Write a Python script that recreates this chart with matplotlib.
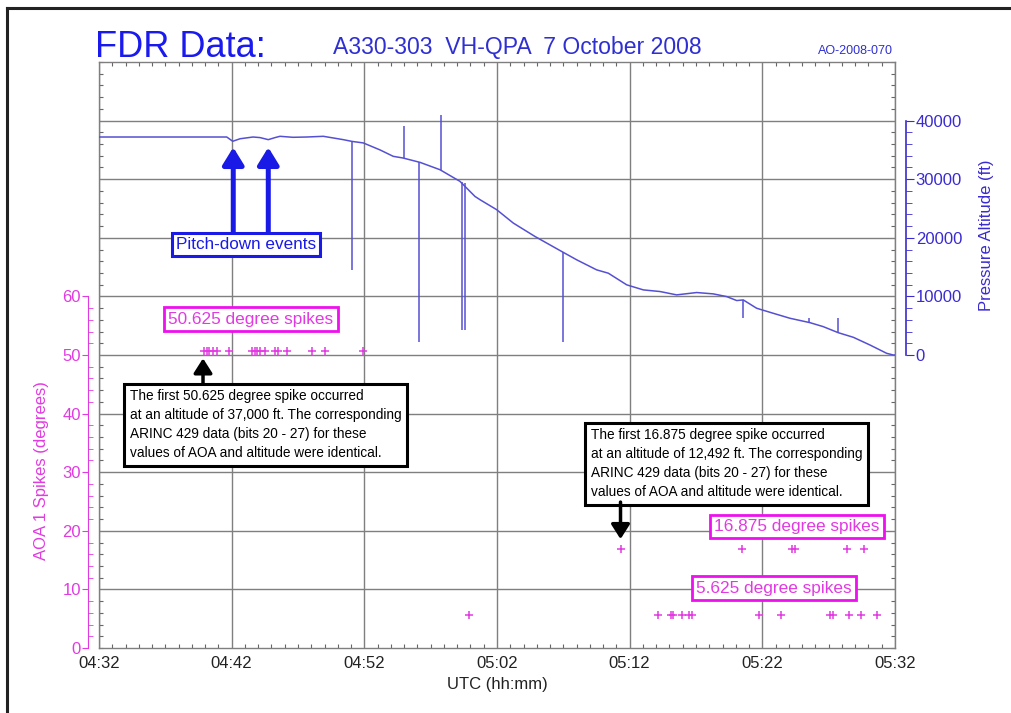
import matplotlib
matplotlib.use('Agg')
import matplotlib.pyplot as plt
from matplotlib.ticker import FixedLocator
from matplotlib.lines import Line2D

plt.rcParams['font.family'] = ['Liberation Sans', 'DejaVu Sans']

# time axis: minutes after 04:32 UTC
time_ticks = [0, 10, 20, 30, 40, 50, 60]
time_labels = ['04:32', '04:42', '04:52', '05:02', '05:12', '05:22', '05:32']

# pressure altitude trace (ft)
alt_min = [0, 9.63, 10.08, 10.63, 11.61, 12.14, 12.76, 13.27, 13.64, 14.62, 15.66,
           16.91, 18.41, 19.07, 19.92, 21.18, 22.18, 22.91, 24.20, 25.70, 27.21,
           28.34, 28.72, 29.98, 31.23, 32.86, 34.88, 36.01, 37.51, 38.39, 39.78,
           41.03, 42.29, 43.54, 45.05, 46.30, 47.31, 48.07, 48.56, 49.57, 50.82,
           52.08, 53.59, 54.59, 55.72, 56.86, 58.11, 59.37, 59.87, 60.0]
alt_ft = [37200, 37200, 36470, 36900, 37200, 37100, 36750, 37100, 37320, 37150, 37200,
          37320, 36750, 36450, 36190, 35000, 33900, 33620, 32870, 31620, 29630,
          27060, 26500, 24790, 22510, 20230, 17660, 16240, 14530, 13960, 11970,
          11110, 10830, 10260, 10660, 10430, 9970, 9290, 9400, 7980, 7120,
          6270, 5520, 4840, 3810, 3020, 1710, 290, 0, 0]

# single-sample altitude spikes: time, trace value, spike value
spike_min = [19.07, 22.99, 24.10, 25.78, 27.34, 27.57, 34.97, 48.56, 53.54, 55.68]
spike_from = [36450, 33600, 32900, 31600, 29600, 29300, 17500, 9400, 5520, 3850]
spike_to = [14530, 39030, 2220, 41030, 4270, 4270, 2270, 6270, 6320, 6270]

# AOA 1 spike times (minutes) for each spike value
aoa_50_min = [7.91, 8.16, 8.31, 8.57, 8.87, 9.82, 11.51, 11.76, 11.88, 12.13, 12.51,
              13.26, 13.51, 14.14, 16.03, 17.03, 19.92]
aoa_16_min = [39.31, 48.50, 52.25, 52.45, 56.39, 57.65]
aoa_5_min = [27.90, 42.10, 43.08, 43.23, 43.98, 44.44, 44.69, 49.74, 51.40, 55.10,
             55.30, 56.54, 57.47, 58.68]
aoa_50 = 50.625
aoa_16 = 16.875
aoa_5 = 5.625

blue_line = '#5550d2'
blue_axis = '#3a2bd0'
blue_box = '#1a1ae6'
magenta = '#e23ae2'
box_magenta = '#ee10ee'
grid_col = '#7f7f7f'

fig = plt.figure(figsize=(10.11, 7.13), dpi=100)
ax = fig.add_axes([99 / 1011, 1 - 648 / 713, 796 / 1011, 586 / 713])
ax_l = ax.twinx()
ax_r = ax.twinx()

# main frame and grid
ax.set_xlim(0, 60)
ax.set_ylim(0, 100)
ax.set_xticks(time_ticks)
ax.set_xticklabels(time_labels)
ax.set_yticks(range(10, 100, 10))
ax.xaxis.set_minor_locator(FixedLocator(range(0, 61)))
ax.yaxis.set_minor_locator(FixedLocator(range(0, 101, 2)))
ax.grid(True, color=grid_col, lw=1)
for s in ax.spines.values():
    s.set_color(grid_col)
    s.set_linewidth(1)
ax.tick_params(which='both', direction='in', top=True, bottom=True, left=True, right=True,
               labelleft=False, labelright=False, color='#666666')
ax.tick_params(which='major', length=0, pad=6)
ax.tick_params(which='minor', length=3, width=0.8)
ax.tick_params(axis='x', labelsize=12, labelcolor='#222222')

# AOA axis on the left
ax_l.set_ylim(0, 100)
ax_l.yaxis.tick_left()
for k in ['right', 'top', 'bottom']:
    ax_l.spines[k].set_visible(False)
ax_l.spines['left'].set_position(('outward', 7.9))
ax_l.spines['left'].set_bounds(0, 60)
ax_l.spines['left'].set_color(magenta)
ax_l.set_yticks(range(0, 61, 10))
ax_l.yaxis.set_minor_locator(FixedLocator(range(0, 61, 2)))
ax_l.tick_params(axis='y', which='major', direction='out', length=4, colors=magenta,
                 labelsize=12, pad=1)
ax_l.tick_params(axis='y', which='minor', direction='in', length=3.5, color=magenta)

# altitude axis on the right (0 ft lines up with 50 deg)
ax_r.set_ylim(-50000, 50000)
for k in ['left', 'top', 'bottom']:
    ax_r.spines[k].set_visible(False)
ax_r.spines['right'].set_position(('outward', 7.9))
ax_r.spines['right'].set_bounds(0, 40000)
ax_r.spines['right'].set_color(blue_axis)
ax_r.spines['right'].set_linewidth(1.2)
ax_r.set_yticks(range(0, 40001, 10000))
ax_r.yaxis.set_minor_locator(FixedLocator(range(0, 40001, 2000)))
ax_r.tick_params(axis='y', which='major', direction='out', length=6, colors=blue_axis,
                 labelsize=12, pad=1)
ax_r.tick_params(axis='y', which='minor', direction='out', length=4, color=blue_axis)

ax_r.plot(alt_min, alt_ft, color=blue_line, lw=1.1)
ax_r.vlines(spike_min, spike_from, spike_to, color=blue_line, lw=1.1)

ms = dict(marker='+', ls='none', color=magenta, ms=6, mew=1.1)
ax.plot(aoa_50_min, [aoa_50] * len(aoa_50_min), **ms)
ax.plot(aoa_16_min, [aoa_16] * len(aoa_16_min), **ms)
ax.plot(aoa_5_min, [aoa_5] * len(aoa_5_min), **ms)

# labelled boxes
mbox = dict(boxstyle='square,pad=0.25', fc='white', ec=box_magenta, lw=2)
ax.text(11.44, 56.12, '50.625 degree spikes', color=magenta, fontsize=12.4,
        ha='center', va='center', bbox=mbox)
ax.text(52.61, 20.74, '16.875 degree spikes', color=magenta, fontsize=12.4,
        ha='center', va='center', bbox=mbox)
ax.text(50.86, 10.23, '5.625 degree spikes', color=magenta, fontsize=12.4,
        ha='center', va='center', bbox=mbox)

ax_r.text(11.08, 18850, 'Pitch-down events', color=blue_box, fontsize=12.3,
          ha='center', va='center',
          bbox=dict(boxstyle='square,pad=0.25', fc='white', ec=blue_box, lw=2.2))
for t in [10.12, 12.76]:
    ax_r.annotate('', xy=(t, 35440), xytext=(t, 20900),
                  arrowprops=dict(arrowstyle='-|>,head_length=0.65,head_width=0.4',
                                  mutation_scale=16, color=blue_box, lw=3.6,
                                  shrinkA=0, shrinkB=0))

kbox = dict(boxstyle='square,pad=0.4', fc='white', ec='black', lw=2.2)
note1 = ('The first 50.625 degree spike occurred\n'
         'at an altitude of 37,000 ft. The corresponding\n'
         'ARINC 429 data (bits 20 - 27) for these\n'
         'values of AOA and altitude were identical.')
note2 = ('The first 16.875 degree spike occurred\n'
         'at an altitude of 12,492 ft. The corresponding\n'
         'ARINC 429 data (bits 20 - 27) for these\n'
         'values of AOA and altitude were identical.')
ax.text(2.30, 38.1, note1, fontsize=9.8, ha='left', va='center', linespacing=1.45,
        bbox=kbox)
ax.text(37.08, 31.45, note2, fontsize=9.8, ha='left', va='center', linespacing=1.45,
        bbox=kbox)
karrow = dict(arrowstyle='-|>,head_length=0.55,head_width=0.35', mutation_scale=16,
              color='black', lw=2.5, shrinkA=0, shrinkB=0)
ax.annotate('', xy=(7.84, 49.43), xytext=(7.84, 45.17), arrowprops=karrow)
ax.annotate('', xy=(39.31, 18.58), xytext=(39.31, 24.9), arrowprops=karrow)

# titles and axis labels
fig.text(95 / 1011, 1 - 57 / 713, 'FDR Data:', color='#1a1aee', fontsize=26,
         ha='left', va='baseline')
fig.text(333 / 1011, 1 - 54 / 713, 'A330-303  VH-QPA  7 October 2008', color='#2f2fd2',
         fontsize=16.6, ha='left', va='baseline')
fig.text(893 / 1011, 1 - 54 / 713, 'AO-2008-070', color='#2f2fd2', fontsize=9,
         ha='right', va='baseline')
fig.text(497 / 1011, 1 - 684 / 713, 'UTC (hh:mm)', color='#222222', fontsize=12,
         ha='center', va='center')
fig.text(42 / 1011, 1 - 471 / 713, 'AOA 1 Spikes (degrees)', color=magenta, fontsize=12,
         rotation=90, ha='center', va='center')
fig.text(986 / 1011, 1 - 235 / 713, 'Pressure Altitude (ft)', color=blue_axis, fontsize=12,
         rotation=90, ha='center', va='center')

# page border
fig.add_artist(Line2D([7 / 1011, 7 / 1011], [0, 1 - 8 / 713], color='#222222', lw=2.2))
fig.add_artist(Line2D([7 / 1011, 1], [1 - 8 / 713, 1 - 8 / 713], color='#222222', lw=2.2))

fig.savefig('out.png', dpi=100)
